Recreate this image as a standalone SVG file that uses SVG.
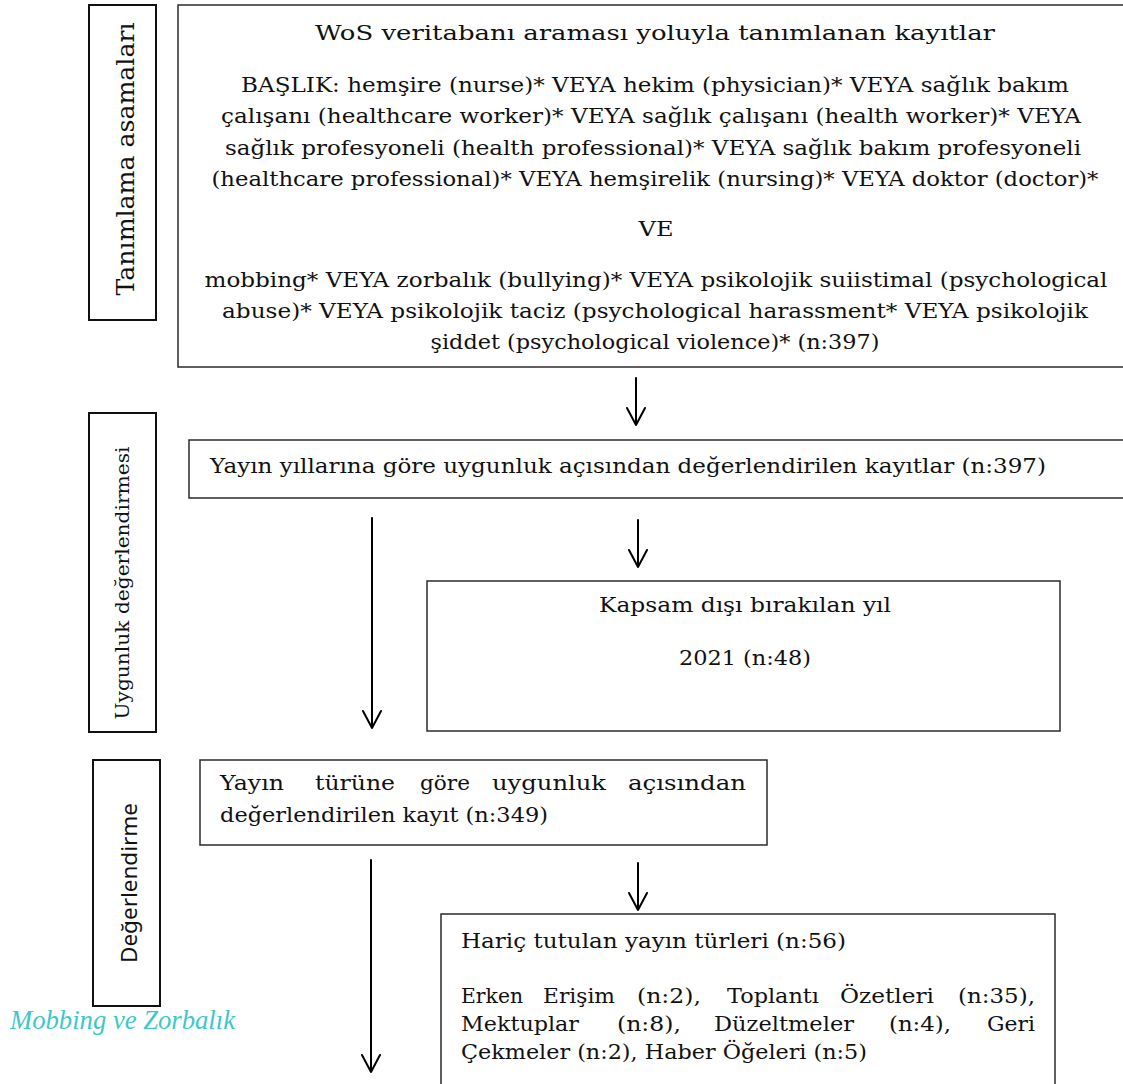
<svg xmlns="http://www.w3.org/2000/svg" width="1123" height="1084" viewBox="0 0 1123 1084">
<style>
.box{fill:#fff;stroke:#2b2b2b;stroke-width:1.5}
.side{fill:#fff;stroke:#111;stroke-width:2}
.t{font-family:"DejaVu Serif","Liberation Serif",serif;font-size:21px;fill:#111}
.s{font-family:"DejaVu Serif","Liberation Serif",serif;fill:#111}
.m{text-anchor:middle}
.e{text-anchor:end}
.arr{fill:none;stroke:#000;stroke-width:2;stroke-linecap:round;stroke-linejoin:round}
</style>
<rect width="1123" height="1084" fill="#fff"/>

<g id="stage-tanimlama">
<rect class="side" x="89" y="5" width="67" height="315"/>
<text class="s m" font-size="24" transform="translate(134,159) rotate(-90)" textLength="273" lengthAdjust="spacingAndGlyphs">Tanımlama asamaları</text>
</g>

<g id="stage-uygunluk">
<rect class="side" x="89" y="413" width="67" height="319"/>
<text class="s m" font-size="19" transform="translate(129,583) rotate(-90)" textLength="273" lengthAdjust="spacingAndGlyphs">Uygunluk değerlendirmesi</text>
</g>

<g id="stage-degerlendirme">
<rect class="side" x="93" y="760" width="67" height="246"/>
<text font-family="'Noto Sans','Open Sans',sans-serif" font-size="21" fill="#111" text-anchor="middle" transform="translate(137,883) rotate(-90)" textLength="160" lengthAdjust="spacingAndGlyphs">Değerlendirme</text>
</g>

<g id="node-wos">
<rect class="box" x="178" y="5" width="960" height="362"/>
<text class="t m" x="655" y="40" font-size="23" textLength="680" lengthAdjust="spacingAndGlyphs">WoS veritabanı araması yoluyla tanımlanan kayıtlar</text>
<text class="t m" x="655" y="92" textLength="828" lengthAdjust="spacingAndGlyphs">BAŞLIK: hemşire (nurse)* VEYA hekim (physician)* VEYA sağlık bakım</text>
<text class="t m" x="651" y="123" textLength="860" lengthAdjust="spacingAndGlyphs">çalışanı (healthcare worker)* VEYA sağlık çalışanı (health worker)* VEYA</text>
<text class="t m" x="653" y="155" textLength="856" lengthAdjust="spacingAndGlyphs">sağlık profesyoneli (health professional)* VEYA sağlık bakım profesyoneli</text>
<text class="t m" x="655" y="186" textLength="887" lengthAdjust="spacingAndGlyphs">(healthcare professional)* VEYA hemşirelik (nursing)* VEYA doktor (doctor)*</text>
<text class="t m" x="656" y="236" textLength="35" lengthAdjust="spacingAndGlyphs">VE</text>
<text class="t m" x="656" y="287" textLength="903" lengthAdjust="spacingAndGlyphs">mobbing* VEYA zorbalık (bullying)* VEYA psikolojik suiistimal (psychological</text>
<text class="t m" x="655" y="318" textLength="866" lengthAdjust="spacingAndGlyphs">abuse)* VEYA psikolojik taciz (psychological harassment* VEYA psikolojik</text>
<text class="t m" x="655" y="349" textLength="449" lengthAdjust="spacingAndGlyphs">şiddet (psychological violence)* (n:397)</text>
</g>

<g id="node-yil">
<rect class="box" x="189" y="440" width="950" height="58"/>
<text class="t" x="210" y="473" textLength="836" lengthAdjust="spacingAndGlyphs">Yayın yıllarına göre uygunluk açısından değerlendirilen kayıtlar (n:397)</text>
</g>

<g id="node-kapsam">
<rect class="box" x="427" y="581" width="633" height="150"/>
<text class="t m" x="745" y="612" textLength="292" lengthAdjust="spacingAndGlyphs">Kapsam dışı bırakılan yıl</text>
<text class="t m" x="745" y="665" textLength="132" lengthAdjust="spacingAndGlyphs">2021 (n:48)</text>
</g>

<g id="node-tur">
<rect class="box" x="200" y="760" width="567" height="85"/>
<text class="t" x="220" y="790" textLength="64" lengthAdjust="spacingAndGlyphs">Yayın</text>
<text class="t" x="315" y="790" textLength="80" lengthAdjust="spacingAndGlyphs">türüne</text>
<text class="t" x="420" y="790" textLength="50" lengthAdjust="spacingAndGlyphs">göre</text>
<text class="t" x="492" y="790" textLength="114" lengthAdjust="spacingAndGlyphs">uygunluk</text>
<text class="t e" x="746" y="790" textLength="118" lengthAdjust="spacingAndGlyphs">açısından</text>
<text class="t" x="220" y="822" textLength="328" lengthAdjust="spacingAndGlyphs">değerlendirilen kayıt (n:349)</text>
</g>

<g id="node-haric">
<rect class="box" x="441" y="914" width="614" height="190"/>
<text class="t" x="461" y="948" textLength="385" lengthAdjust="spacingAndGlyphs">Hariç tutulan yayın türleri (n:56)</text>
<text class="t" x="461" y="1003" textLength="62" lengthAdjust="spacingAndGlyphs">Erken</text>
<text class="t" x="543" y="1003" textLength="72" lengthAdjust="spacingAndGlyphs">Erişim</text>
<text class="t" x="637" y="1003" textLength="64" lengthAdjust="spacingAndGlyphs">(n:2),</text>
<text class="t" x="727" y="1003" textLength="92" lengthAdjust="spacingAndGlyphs">Toplantı</text>
<text class="t" x="840" y="1003" textLength="94" lengthAdjust="spacingAndGlyphs">Özetleri</text>
<text class="t e" x="1035" y="1003" textLength="77" lengthAdjust="spacingAndGlyphs">(n:35),</text>
<text class="t" x="461" y="1031" textLength="118" lengthAdjust="spacingAndGlyphs">Mektuplar</text>
<text class="t" x="617" y="1031" textLength="64" lengthAdjust="spacingAndGlyphs">(n:8),</text>
<text class="t" x="714" y="1031" textLength="140" lengthAdjust="spacingAndGlyphs">Düzeltmeler</text>
<text class="t" x="889" y="1031" textLength="62" lengthAdjust="spacingAndGlyphs">(n:4),</text>
<text class="t e" x="1035" y="1031" textLength="48" lengthAdjust="spacingAndGlyphs">Geri</text>
<text class="t" x="461" y="1059" textLength="406" lengthAdjust="spacingAndGlyphs">Çekmeler (n:2), Haber Öğeleri (n:5)</text>
</g>

<text x="10" y="1029" font-family="'Liberation Serif',serif" font-style="italic" font-size="27" fill="#3cc8c8" textLength="225" lengthAdjust="spacingAndGlyphs">Mobbing ve Zorbalık</text>

<g id="connectors">
<path class="arr" d="M636 378V425M627 408L636 425L645 408"/>
<path class="arr" d="M638 520V567M629 550L638 567L647 550"/>
<path class="arr" d="M372 518V728M363 711L372 728L381 711"/>
<path class="arr" d="M638 863V910M629 893L638 910L647 893"/>
<path class="arr" d="M371 860V1072M362 1055L371 1072L380 1055"/>
</g>
</svg>
